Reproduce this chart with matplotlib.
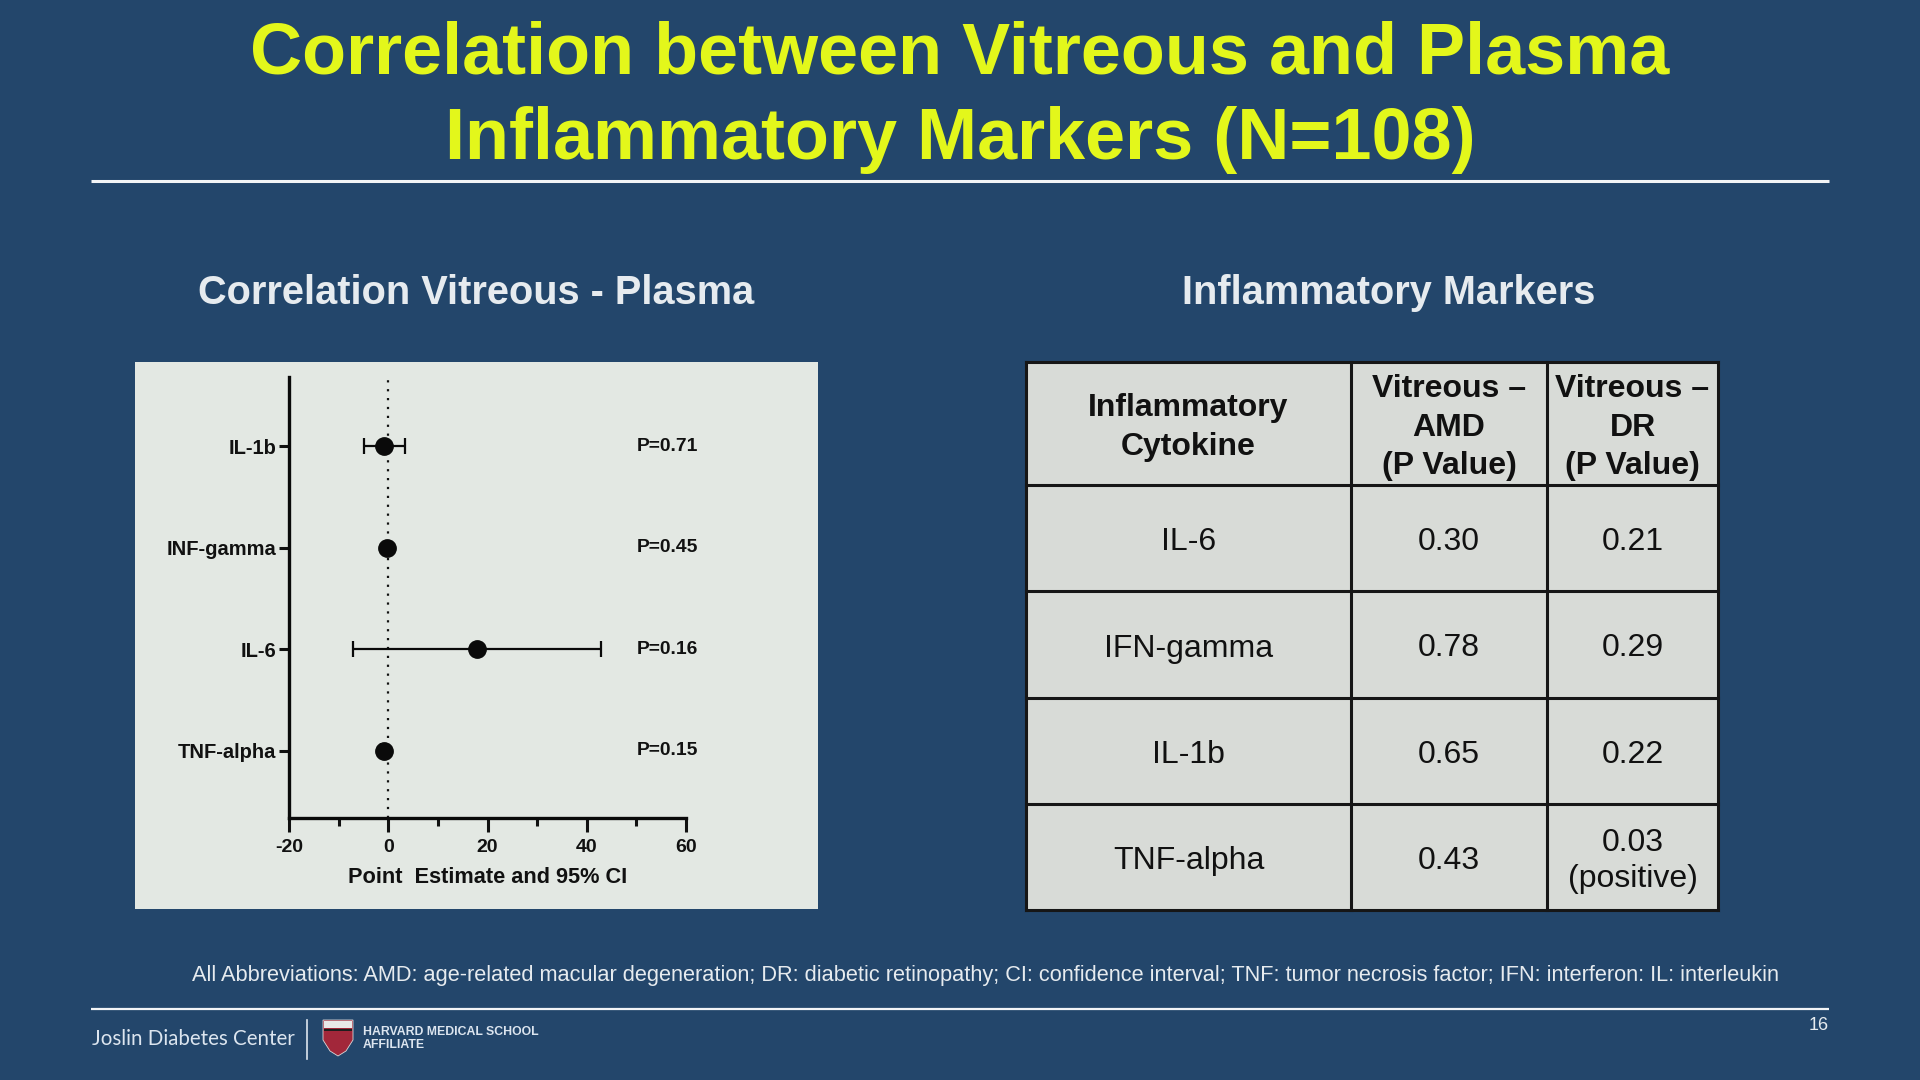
import matplotlib
matplotlib.use("Agg")
import matplotlib.pyplot as plt
from matplotlib import font_manager as fm
from matplotlib.patches import Rectangle, Polygon

# ---------------- data ----------------
markers = ["IL-1b", "INF-gamma", "IL-6", "TNF-alpha"]
estimates = [-0.8, -0.3, 17.8, -0.9]
ci_low = [-4.9, -0.7, -7.1, -1.5]
ci_high = [3.4, 0.1, 42.8, -0.3]
p_labels = ["P=0.71", "P=0.45", "P=0.16", "P=0.15"]
x_ticks = [-20, 0, 20, 40, 60]

table_header = ["Inflammatory\nCytokine", "Vitreous \u2013\nAMD\n(P Value)", "Vitreous \u2013\nDR\n(P Value)"]
cytokines = ["IL-6", "IFN-gamma", "IL-1b", "TNF-alpha"]
amd_p = ["0.30", "0.78", "0.65", "0.43"]
dr_p = ["0.21", "0.29", "0.22", "0.03\n(positive)"]

# ---------------- style ----------------
names = {f.name for f in fm.fontManager.ttflist}
SANS = "Liberation Sans" if "Liberation Sans" in names else "DejaVu Sans"
LOGO = "Lato" if "Lato" in names else SANS

BG = "#23466B"
YELLOW = "#E3F71B"
LIGHT = "#E6EBEF"
PANEL = "#E3E8E3"
CELL = "#D8DBD7"

W, H = 1920, 1080
fig = plt.figure(figsize=(W / 100, H / 100), dpi=100, facecolor=BG)
bg = fig.add_axes([0, 0, 1, 1], zorder=0)
bg.set_xlim(0, W)
bg.set_ylim(H, 0)
bg.axis("off")
bg.set_facecolor(BG)

# Title
bg.text(960, 54, "Correlation between Vitreous and Plasma", ha="center", va="center",
        fontsize=51.8, fontweight="bold", color=YELLOW, family=SANS)
bg.text(960, 140, "Inflammatory Markers (N=108)", ha="center", va="center",
        fontsize=51.8, fontweight="bold", color=YELLOW, family=SANS)
bg.plot([91, 1829], [181, 181], color="#F2F4F6", lw=2.2, solid_capstyle="butt")

# Subtitles
bg.text(476, 293, "Correlation Vitreous - Plasma", ha="center", va="center",
        fontsize=28.6, fontweight="bold", color=LIGHT, family=SANS)
bg.text(1389, 293, "Inflammatory Markers", ha="center", va="center",
        fontsize=28.6, fontweight="bold", color=LIGHT, family=SANS)

# Forest plot panel background
bg.add_patch(Rectangle((135, 362), 818 - 135, 909 - 362, facecolor=PANEL, edgecolor="none"))

# ---------------- table ----------------
col_x = [1026, 1351, 1547, 1718]
row_y = [362, 485, 591, 698, 804, 910]
bg.add_patch(Rectangle((col_x[0], row_y[0]), col_x[-1] - col_x[0], row_y[-1] - row_y[0],
                       facecolor=CELL, edgecolor="none", zorder=1))
for x in col_x:
    bg.plot([x, x], [row_y[0], row_y[-1]], color="#161616", lw=2.2, zorder=3, solid_capstyle="projecting")
for y in row_y:
    bg.plot([col_x[0], col_x[-1]], [y, y], color="#161616", lw=2.2, zorder=3, solid_capstyle="projecting")

for j, htxt in enumerate(table_header):
    cx = (col_x[j] + col_x[j + 1]) / 2
    cy = (row_y[0] + row_y[1]) / 2 + 4
    bg.text(cx, cy, htxt, ha="center", va="center", fontsize=23, fontweight="bold",
            color="#111111", family=SANS, linespacing=1.36, zorder=4)

for i in range(len(cytokines)):
    cy = (row_y[i + 1] + row_y[i + 2]) / 2 + 4
    for j, val in enumerate([cytokines[i], amd_p[i], dr_p[i]]):
        cx = (col_x[j] + col_x[j + 1]) / 2
        bg.text(cx, cy, val, ha="center", va="center", fontsize=23, color="#111111",
                family=SANS, linespacing=1.25, zorder=4)

# Abbreviations
bg.text(986, 975, "All Abbreviations: AMD: age-related macular degeneration; DR: diabetic retinopathy; "
        "CI: confidence interval; TNF: tumor necrosis factor; IFN: interferon: IL: interleukin",
        ha="center", va="center", fontsize=15.7, color=LIGHT, family=SANS)

# Footer
bg.plot([91, 1829], [1009, 1009], color="#F2F4F6", lw=1.6, solid_capstyle="butt")
bg.text(92, 1039, "Joslin Diabetes Center", ha="left", va="center", fontsize=14.8,
        color="#DCE5EF", family=LOGO)
bg.plot([307, 307], [1020, 1059], color="#DCE5EF", lw=1.2)
shield = Polygon([[323, 1020], [353, 1020], [353, 1040], [346, 1051], [338, 1056],
                  [330, 1051], [323, 1040]], closed=True, facecolor="#A2273A", edgecolor="#D9D9D9", lw=0.6)
bg.add_patch(shield)
bg.add_patch(Rectangle((324, 1021), 28, 7, facecolor="#E8E8E8", edgecolor="none"))
bg.add_patch(Rectangle((324, 1029), 28, 2, facecolor="#1E1E1E", edgecolor="none"))
bg.text(363, 1032, "HARVARD MEDICAL SCHOOL", ha="left", va="center", fontsize=8.8,
        fontweight="bold", color="#DCE5EF", family=SANS)
bg.text(363, 1045, "AFFILIATE", ha="left", va="center", fontsize=8.8,
        fontweight="bold", color="#DCE5EF", family=SANS)
bg.text(1819, 1026, "16", ha="center", va="center", fontsize=13, color=LIGHT, family=SANS)

# ---------------- forest plot ----------------
left, right = 289 / W, 686 / W
top, bottom = 1 - 377 / H, 1 - 818 / H
ax = fig.add_axes([left, bottom, right - left, top - bottom], zorder=2)
ax.set_facecolor("none")
ypos = list(range(len(markers)))
xerr = [[e - lo for e, lo in zip(estimates, ci_low)], [hi - e for e, hi in zip(estimates, ci_high)]]
ax.axvline(0, color="#111111", lw=1.6, ls=(0, (1, 3)), zorder=1)
ax.errorbar(estimates, ypos, xerr=xerr, fmt="o", color="#0A0A0A", ecolor="#0A0A0A",
            markersize=12.5, elinewidth=1.6, capsize=6, capthick=1.6, zorder=3)
for y, pl in zip(ypos, p_labels):
    ax.text(50.1, y, pl, ha="left", va="center", fontsize=13.9, fontweight="bold",
            color="#111111", family=SANS)

ax.set_xlim(-20, 60)
ax.set_ylim(3.66, -0.68)
ax.set_xticks(x_ticks)
ax.set_xticks([-10, 10, 30, 50], minor=True)
ax.set_xticklabels([str(t) for t in x_ticks], fontsize=14, fontweight="bold", family=SANS)
ax.set_yticks(ypos)
ax.set_yticklabels(markers, fontsize=14.5, fontweight="bold", family=SANS)
ax.set_xlabel("Point  Estimate and 95% CI", fontsize=15.7, fontweight="bold", family=SANS,
              labelpad=8, color="#111111")
for s in ["top", "right"]:
    ax.spines[s].set_visible(False)
for s in ["left", "bottom"]:
    ax.spines[s].set_linewidth(2.4)
    ax.spines[s].set_color("#0A0A0A")
ax.tick_params(axis="x", which="major", length=10, width=2.2, colors="#111111", pad=5)
ax.tick_params(axis="x", which="minor", length=6, width=2.2, colors="#111111")
ax.tick_params(axis="y", which="major", length=7, width=2.2, colors="#111111", pad=2)

fig.savefig("out.png", dpi=100, facecolor=BG)
